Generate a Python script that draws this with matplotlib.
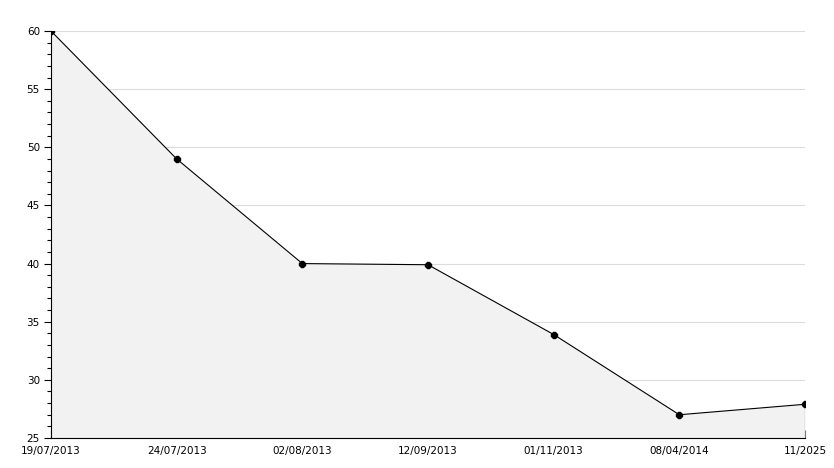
import matplotlib
matplotlib.use('Agg')
import matplotlib.pyplot as plt
from matplotlib.ticker import MultipleLocator

dates = ['19/07/2013', '24/07/2013', '02/08/2013', '12/09/2013',
         '01/11/2013', '08/04/2014', '11/2025']
values = [60, 49, 40, 39.9, 33.9, 27, 27.9]

fig = plt.figure(figsize=(8.34, 4.68), dpi=100)
ax = fig.add_axes([51/834, 30/468, 754/834, 407/468])

x = list(range(len(dates)))
ax.fill_between(x, values, 25, color='#f2f2f2', lw=0)
ax.plot(x, values, color='black', lw=0.8, marker='8', markersize=5)
ax.plot([x[-1], x[-1]], [25, values[-1]], color='black', lw=0.8)

ax.set_xlim(0, len(dates) - 1)
ax.set_ylim(25, 60)
ax.set_xticks(x)
ax.set_xticklabels(dates)
ax.yaxis.set_major_locator(MultipleLocator(5))
ax.yaxis.set_minor_locator(MultipleLocator(1))
ax.grid(axis='y', color='#dcdcdc', lw=0.8)
ax.set_axisbelow(True)

for s in ['top', 'right']:
    ax.spines[s].set_visible(False)

ax.tick_params(axis='x', direction='in', length=6, width=0.8, pad=5.5, labelsize=7.5)
ax.tick_params(axis='y', which='major', direction='out', length=5, width=0.8, pad=3, labelsize=7.5)
ax.tick_params(axis='y', which='minor', direction='out', length=3, width=0.8)

fig.savefig('out.png', dpi=100)
